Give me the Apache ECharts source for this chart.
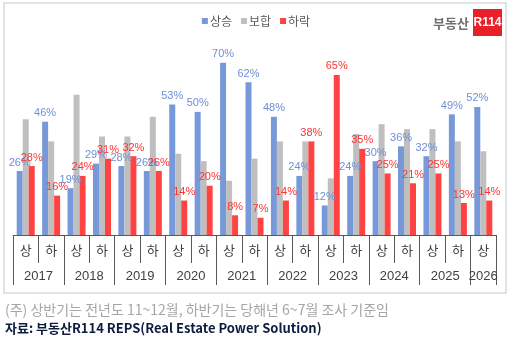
<!DOCTYPE html>
<html><head><meta charset="utf-8">
<script src="https://cdn.jsdelivr.net/npm/echarts/dist/echarts.min.js"></script>
<style>html,body{margin:0;padding:0;background:#fff}#c{width:512px;height:343px}</style>
</head><body><div id="c"></div>
<script>
const categories = ['상','하','상','하','상','하','상','하','상','하','상','하','상','하','상','하','상','하','상'];
const years = ['2017','2018','2019','2020','2021','2022','2023','2024','2025','2026'];
const rise = [26,46,19,29,28,26,53,50,70,62,48,24,12,24,30,36,32,49,52];
const flat = [47,38,57,40,40,48,33,30,22,31,38,38,23,41,45,43,43,38,34];
const fall = [28,16,24,31,32,26,14,20,8,7,14,38,65,35,25,21,25,13,14];
const seriesNames = ['상승','보합','하락'];

const FONT = '"Noto Sans CJK KR", sans-serif';
const NUMFONT = '"Liberation Sans", Arial, sans-serif';
const n = categories.length;
// positions in half-category units (0..2n)
const halfTicks = [], yearTicks = [], yearLabelAt = {};
let idx = 0;
years.forEach((y) => {
  const span = (idx + 1 < n && categories[idx + 1] === '하') ? 2 : 1;
  yearTicks.push(idx * 2);
  yearLabelAt[idx * 2 + span] = y;
  if (span === 2) halfTicks.push((idx + 1) * 2);
  idx += span;
});
yearTicks.push(n * 2);

const chart = echarts.init(document.getElementById('c'), null, {renderer: 'canvas'});
const lbl = (color) => ({show: true, position: 'top', distance: 3, fontSize: 11, fontFamily: NUMFONT, color: color, formatter: '{c}%'});
chart.setOption({
  animation: false,
  textStyle: {fontFamily: FONT},
  legend: {
    top: 10, left: 'center', itemWidth: 6, itemHeight: 6, itemGap: 9, icon: 'rect',
    textStyle: {fontSize: 12, color: '#595959', fontFamily: FONT, padding: [0, 0, 0, -3]},
    data: seriesNames
  },
  grid: {left: 13, right: 16, top: 38, bottom: 108, containLabel: false},
  xAxis: [
    {type: 'category', data: categories, axisLine: {show: false}, axisTick: {show: false},
     axisLabel: {margin: 9, fontSize: 13, color: '#404040', fontFamily: FONT}},
    {type: 'value', min: 0, max: n * 2, position: 'bottom', splitLine: {show: false},
     axisLine: {show: true, lineStyle: {color: '#595959', width: 1}},
     axisTick: {show: true, customValues: halfTicks, length: 28, lineStyle: {color: '#595959'}},
     axisLabel: {show: false}},
    {type: 'value', min: 0, max: n * 2, interval: 1, position: 'bottom', splitLine: {show: false},
     axisLine: {show: false},
     axisTick: {show: true, customValues: yearTicks, length: 50, lineStyle: {color: '#595959'}},
     axisLabel: {show: true, margin: 35, fontSize: 13, color: '#404040', fontFamily: NUMFONT, showMinLabel: true, showMaxLabel: true,
       formatter: (v) => yearLabelAt[v] || ''}}
  ],
  yAxis: {type: 'value', min: 0, max: 80, show: false},
  series: [
    {name: seriesNames[0], type: 'bar', data: rise, barWidth: 6, barGap: '0%', itemStyle: {color: '#7799DA'}, label: lbl('#6E8FD8')},
    {name: seriesNames[1], type: 'bar', data: flat, barWidth: 6, barGap: '0%', itemStyle: {color: '#BFBFBF'}},
    {name: seriesNames[2], type: 'bar', data: fall, barWidth: 6, barGap: '0%', itemStyle: {color: '#FF4242'}, label: lbl('#FF3333')}
  ],
  graphic: [
    {type: 'rect', shape: {x: 4, y: 3, width: 502, height: 290}, style: {fill: 'none', stroke: '#D9D9D9', lineWidth: 1.5}, silent: true},
    {type: 'text', x: 433, y: 23, style: {text: '부동산', font: 'bold 13px "Noto Sans CJK KR"', fill: '#707070', verticalAlign: 'middle'}},
    {type: 'rect', shape: {x: 473, y: 9, width: 29, height: 27}, style: {fill: '#E8202A'}},
    {type: 'text', x: 487.5, y: 23, style: {text: 'R114', font: 'bold 12px "Liberation Sans"', fill: '#fff', align: 'center', verticalAlign: 'middle'}},
    {type: 'text', x: 5, y: 310, style: {text: '(주) 상반기는 전년도 11~12월, 하반기는 당해년 6~7월 조사 기준임', font: '14px "Noto Sans CJK KR"', fill: '#A6A6A6', verticalAlign: 'middle'}},
    {type: 'text', x: 5, y: 328, style: {text: '자료: 부동산R114 REPS(Real Estate Power Solution)', font: 'bold 13px "Noto Sans CJK KR"', fill: '#0D1B3E', verticalAlign: 'middle'}}
  ]
});
</script></body></html>
